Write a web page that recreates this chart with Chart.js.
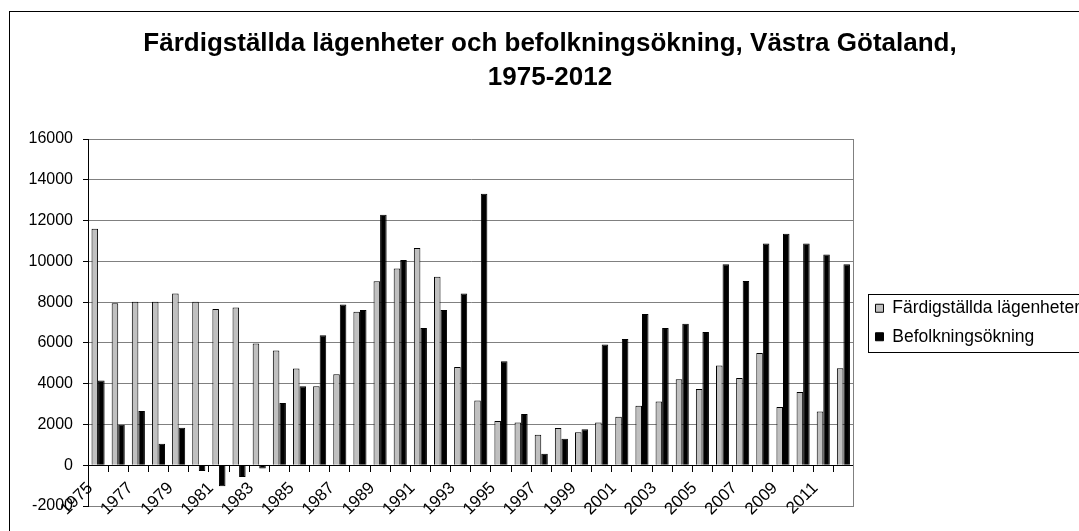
<!DOCTYPE html>
<html>
<head>
<meta charset="utf-8">
<script src="https://cdn.jsdelivr.net/npm/chart.js@4"></script>
<style>
  body { margin: 0; background: #fff; overflow: hidden; }
  canvas { display: block; }
</style>
</head>
<body>
<canvas id="chart" width="1100" height="545"></canvas>
<script>
// år på x-axeln
var years = ['1975', '1976', '1977', '1978', '1979', '1980', '1981', '1982', '1983', '1984',
  '1985', '1986', '1987', '1988', '1989', '1990', '1991', '1992', '1993', '1994',
  '1995', '1996', '1997', '1998', '1999', '2000', '2001', '2002', '2003', '2004',
  '2005', '2006', '2007', '2008', '2009', '2010', '2011', '2012'];

// färdigställda lägenheter
var lagenheter = [11600, 7940, 8020, 8020, 8420, 8020, 7660, 7730, 5970, 5630,
  4740, 3870, 4460, 7530, 9020, 9650, 10660, 9240, 4820, 3170,
  2170, 2100, 1490, 1820, 1620, 2100, 2380, 2920, 3120, 4220,
  3740, 4890, 4280, 5500, 2850, 3590, 2640, 4760];

// befolkningsökning
var befolkning = [4150, 1990, 2660, 1050, 1840, -280, -1030, -575, -165, 3050,
  3870, 6380, 7880, 7610, 12290, 10060, 6730, 7610, 8420, 13320,
  5100, 2510, 560, 1300, 1760, 5920, 6190, 7420, 6730, 6940,
  6530, 9860, 9040, 10880, 11350, 10880, 10340, 9860];

var yTicks = { min: -2000, max: 16000, step: 2000 };

var font = "'Liberation Sans', Arial, sans-serif";
Chart.defaults.font.family = font;
Chart.defaults.color = '#000';

// vit bakgrund + ram runt diagrammet
var ramPlugin = {
  id: 'ram',
  beforeDraw: function(chart) {
    var ctx = chart.ctx;
    ctx.save();
    ctx.fillStyle = '#fff';
    ctx.fillRect(0, 0, chart.width, chart.height);
    ctx.strokeStyle = '#000';
    ctx.lineWidth = 1;
    ctx.strokeRect(9.5, 11.5, chart.width + 50, chart.height + 50);
    ctx.restore();
  },
  afterDraw: function(chart) {
    // ram runt förklaringen
    var hb = chart.legend.legendHitBoxes;
    if (!hb || hb.length < 2) return;
    var ctx = chart.ctx;
    var x = Math.round(hb[0].left - 7) + 0.5;
    var y = Math.round(hb[0].top - 6) + 0.5;
    var h = Math.round(hb[1].top + hb[1].height + 6) - y + 0.5;
    ctx.save();
    ctx.strokeStyle = '#000';
    ctx.lineWidth = 1;
    ctx.strokeRect(x, y, 400, h);
    ctx.restore();
  }
};

var ctx = document.getElementById('chart').getContext('2d');
var diagram = new Chart(ctx, {
  type: 'bar',
  data: {
    labels: years,
    datasets: [{
      label: 'Färdigställda lägenheter',
      data: lagenheter,
      backgroundColor: '#c0c0c0',
      borderColor: '#000',
      borderWidth: 1,
      barPercentage: 1,
      categoryPercentage: 0.65
    }, {
      label: 'Befolkningsökning',
      data: befolkning,
      backgroundColor: '#000',
      borderColor: '#000',
      borderWidth: 1,
      barPercentage: 1,
      categoryPercentage: 0.65
    }]
  },
  options: {
    responsive: false,
    animation: false,
    layout: { padding: { left: 10, right: 10, top: 0, bottom: 39 } },
    plugins: {
      title: {
        display: true,
        text: ['Färdigställda lägenheter och befolkningsökning, Västra Götaland,', '1975-2012'],
        color: '#000',
        font: { size: 26, weight: 'bold', lineHeight: 34 / 26 },
        padding: { top: 27, bottom: 44 }
      },
      legend: {
        position: 'right',
        fullSize: false,
        maxWidth: 300,
        labels: {
          boxWidth: 8,
          boxHeight: 8,
          padding: 11,
          color: '#000',
          font: { size: 17.5 }
        }
      },
      tooltip: { enabled: false }
    },
    scales: {
      x: {
        position: { y: 0 },
        grid: {
          offset: true,
          drawOnChartArea: false,
          drawTicks: true,
          tickLength: 6,
          color: '#000'
        },
        border: { display: true, color: '#000', width: 1 },
        ticks: {
          autoSkip: false,
          maxRotation: 45,
          minRotation: 45,
          padding: 7,
          labelOffset: -8,
          font: { size: 17 },
          callback: function(val, i) {
            return i % 2 === 0 ? years[i] : '';
          }
        }
      },
      y: {
        min: yTicks.min,
        max: yTicks.max,
        grid: {
          color: '#808080',
          tickColor: '#000',
          tickLength: 5
        },
        border: { display: true, color: '#000', width: 1 },
        ticks: {
          stepSize: yTicks.step,
          padding: 10,
          font: { size: 16 },
          callback: function(v) { return String(v); }
        },
        afterFit: function(scale) { scale.width = 78; }
      },
      kant: {
        type: 'linear',
        position: 'right',
        grid: { display: false },
        ticks: { display: false },
        border: { display: true, color: '#808080', width: 1 },
        afterFit: function(scale) { scale.width = 11; }
      }
    }
  },
  plugins: [ramPlugin]
});
</script>
</body>
</html>
